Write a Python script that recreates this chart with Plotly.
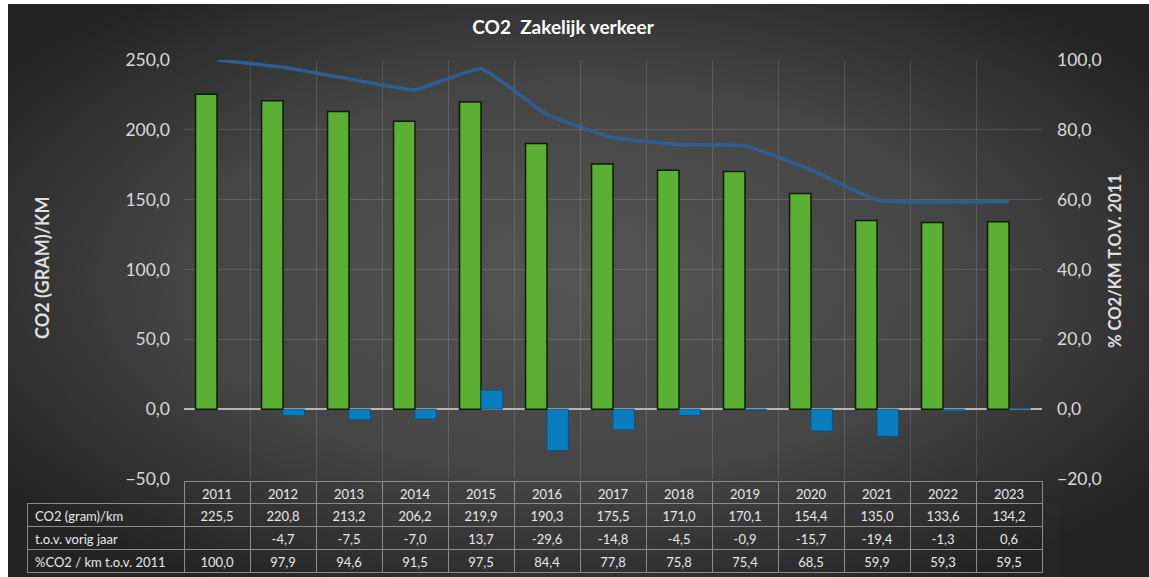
import base64
import plotly.graph_objects as go

years = ["2011", "2012", "2013", "2014", "2015", "2016", "2017", "2018", "2019", "2020", "2021", "2022", "2023"]
co2 = [225.5, 220.8, 213.2, 206.2, 219.9, 190.3, 175.5, 171.0, 170.1, 154.4, 135.0, 133.6, 134.2]
diff = [None, -4.7, -7.5, -7.0, 13.7, -29.6, -14.8, -4.5, -0.9, -15.7, -19.4, -1.3, 0.6]
pct = [100.0, 97.9, 94.6, 91.5, 97.5, 84.4, 77.8, 75.8, 75.4, 68.5, 59.9, 59.3, 59.5]
row_labels = ["CO2 (gram)/km", "t.o.v. vorig jaar", "%CO2 / km t.o.v. 2011"]

FONT = "Lato"
W, H = 1149, 577
ML, MR, MT, MB = 27, 107, 60, 0
PW = W - ML - MR
PH = H - MT - MB


def px_x(px):
    return (px - ML) / PW


def px_y(py):
    return (H - MB - py) / PH


def fmt(v):
    return "" if v is None else f"{v:.1f}".replace(".", ",")


svg = f"""<svg xmlns='http://www.w3.org/2000/svg' width='1141' height='573' viewBox='0 0 1141 573' preserveAspectRatio='none'>
<defs><radialGradient id='g' cx='50%' cy='48%' r='62%'>
<stop offset='0%' stop-color='#555555'/><stop offset='55%' stop-color='#454545'/><stop offset='100%' stop-color='#232323'/>
</radialGradient></defs><rect width='1141' height='573' fill='url(#g)'/></svg>"""
bg_src = "data:image/svg+xml;base64," + base64.b64encode(svg.encode()).decode()

fig = go.Figure()

fig.add_trace(go.Bar(
    x=years, y=co2, name="CO2 (gram)/km", xaxis="x", yaxis="y",
    marker=dict(color="#5BAF32", line=dict(color="#101a08", width=1.5)),
))
fig.add_trace(go.Bar(
    x=years, y=diff, name="t.o.v. vorig jaar", xaxis="x", yaxis="y",
    marker=dict(color="#0A7DC0", line=dict(color="#0a4f7a", width=0.8)),
))
fig.add_trace(go.Scatter(
    x=years, y=pct, name="%CO2 / km t.o.v. 2011", xaxis="x", yaxis="y2",
    mode="lines", line=dict(color="#2E5E91", width=3.5, shape="spline", smoothing=0.4),
))

col_vals = [row_labels] + [[fmt(co2[i]), fmt(diff[i]), fmt(pct[i])] for i in range(len(years))]
border = "#8c8c8c"
fig.add_trace(go.Table(
    domain=dict(x=[0, 1], y=[0, px_y(481)]),
    columnwidth=[157] + [66] * len(years),
    header=dict(
        values=[""] + years,
        height=22,
        align=["left"] + ["center"] * len(years),
        fill=dict(color="rgba(0,0,0,0)"),
        line=dict(color=["rgba(0,0,0,0)"] + [border] * len(years), width=1),
        font=dict(family=FONT, size=13, color="#e8e8e8"),
    ),
    cells=dict(
        values=col_vals,
        height=23,
        align=["left"] + ["center"] * len(years),
        fill=dict(color="rgba(0,0,0,0)"),
        line=dict(color=border, width=1),
        font=dict(family=FONT, size=13, color="#e8e8e8"),
    ),
))

grid = "rgba(255,255,255,0.13)"
tickfont = dict(family=FONT, size=17.5, color="#d9d9d9")

fig.update_layout(
    width=W, height=H, autosize=False,
    margin=dict(l=ML, r=MR, t=MT, b=MB, pad=0, autoexpand=False),
    paper_bgcolor="white",
    plot_bgcolor="rgba(0,0,0,0)",
    separators=",.",
    showlegend=False,
    barmode="group",
    bargap=0.35,
    bargroupgap=0,
    title=dict(text="<b>CO2  Zakelijk verkeer</b>", x=563 / W, xanchor="center", y=1 - 27 / H, yanchor="middle",
               font=dict(family=FONT, size=19, color="#ffffff")),
    xaxis=dict(
        domain=[px_x(184), 1], anchor="y", type="category", tickson="boundaries",
        showgrid=True, gridcolor=grid, gridwidth=1, showticklabels=False, ticks="",
        showline=False, zeroline=False, automargin=False,
    ),
    yaxis=dict(
        domain=[px_y(479), 1], anchor="free", position=px_x(184), range=[-50, 250], dtick=50,
        tickformat=".1f", showgrid=True, gridcolor=grid, gridwidth=1,
        zeroline=True, zerolinecolor="#b5b5b5", zerolinewidth=1.5,
        tickfont=tickfont, ticks="", ticklabelstandoff=14, showline=False, automargin=False,
    ),
    yaxis2=dict(
        overlaying="y", side="right", anchor="x", range=[-20, 100], dtick=20,
        tickformat=".1f", showgrid=False, zeroline=False,
        tickfont=tickfont, ticks="", ticklabelstandoff=14, showline=False, automargin=False,
    ),
    images=[dict(
        source=bg_src, xref="paper", yref="paper",
        x=px_x(8), y=px_y(4), sizex=px_x(W) - px_x(8), sizey=px_y(4) - px_y(H),
        xanchor="left", yanchor="top", sizing="stretch", layer="below",
    )],
    annotations=[
        dict(text="<b>CO2 (GRAM)/KM</b>", xref="paper", yref="paper", x=px_x(42), y=px_y(268),
             textangle=-90, showarrow=False, xanchor="center", yanchor="middle",
             font=dict(family=FONT, size=18, color="#e0e0e0")),
        dict(text="<b>% CO2/KM T.O.V. 2011</b>", xref="paper", yref="paper", x=px_x(1115), y=px_y(261),
             textangle=-90, showarrow=False, xanchor="center", yanchor="middle",
             font=dict(family=FONT, size=16.5, color="#e0e0e0")),
    ],
)

fig.write_html(
    "out.html",
    config={"displayModeBar": False, "responsive": False},
    post_script="document.body.style.margin='0px'; document.body.style.overflow='hidden';",
)
